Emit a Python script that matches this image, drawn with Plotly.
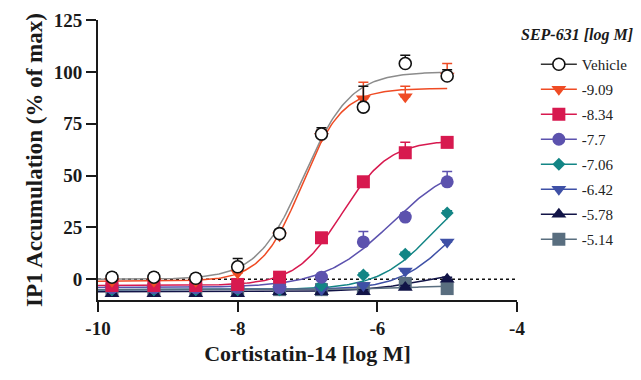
import numpy as np
import plotly.graph_objects as go

# Cortistatin-14 concentrations (log M)
log_conc = [-9.8, -9.2, -8.6, -8.0, -7.4, -6.8, -6.2, -5.6, -5.0]

# SEP-631 concentrations (legend labels)
series_names = ["Vehicle", "-9.09", "-8.34", "-7.7", "-7.06", "-6.42", "-5.78", "-5.14"]

# IP1 accumulation (% of max), mean values
vehicle = [1, 1, 0.5, 6, 22, 70, 83, 104, 98]
sep_909 = [-1, -1, -1, 3, 21, 69, 87, 88, 98]
sep_834 = [-3, -3, -3, -2.5, 1, 20, 47, 61, 66]
sep_770 = [-4, -4, -4, -4, -4, 1, 18, 30, 47]
sep_706 = [-5, -5, -5, -5, -5, -3, 2, 12, 32]
sep_642 = [-5, -5, -5, -5, -5, -5, -3, 4, 18]
sep_578 = [-7, -7, -7, -7, -6, -6, -6, -4, 0]
sep_514 = [-5, -5, -5, -5, -5, -5, -4.5, -2, -4.5]

# Upper error bars (SEM)
err_vehicle = [2, 2, 2, 4, 2, 3, 10, 4, 3]
err_909 = [1, 1, 1, 2, 2, 3, 8, 5, 6]
err_834 = [1, 1, 1, 1, 1, 2, 2, 5, 2]
err_770 = [1, 1, 1, 1, 1, 1, 5, 2, 5]
err_706 = [1, 1, 1, 1, 1, 1, 1, 1, 1]
err_642 = [1, 1, 1, 1, 1, 1, 1, 1, 1]
err_578 = [1, 1, 1, 1, 1, 1, 1, 1, 1]
err_514 = [1, 1, 1, 1, 1, 1, 1, 1, 1]

# Four-parameter logistic fit parameters (bottom, top, logEC50, hill slope)
fit_bottom = [0, -1, -3, -4, -5, -5, -6, -5]
fit_top = [100, 92, 67, 58, 50, 40, 5, -3]
fit_logec50 = [-7.05, -7.08, -6.5, -5.8, -5.2, -5.0, -5.3, -5.6]
fit_hill = [1.3, 1.5, 1.3, 0.9, 1.1, 1.2, 1.0, 1.0]

means = [vehicle, sep_909, sep_834, sep_770, sep_706, sep_642, sep_578, sep_514]
errs = [err_vehicle, err_909, err_834, err_770, err_706, err_642, err_578, err_514]

colors = ["#111111", "#EF4B24", "#D7194F", "#5C52AE", "#138585", "#3E50A6", "#121447", "#596E7F"]
curve_colors = ["#8c8c8c", "#EF4B24", "#D7194F", "#5C52AE", "#138585", "#3E50A6", "#121447", "#596E7F"]
legend_line_colors = ["#333333", "#EF4B24", "#D7194F", "#5C52AE", "#138585", "#3E50A6", "#121447", "#596E7F"]
symbols = ["circle", "triangle-down", "square", "circle", "diamond", "triangle-down", "triangle-up", "square"]
sizes = [12, 13, 13, 13, 10, 13, 13, 13]

SERIF = "Liberation Serif, Times New Roman, serif"

fig = go.Figure()

# zero reference line
fig.add_trace(go.Scatter(x=[-10, -4], y=[0, 0], mode="lines",
                         line=dict(color="#111111", width=1.3, dash="3px,3px"),
                         showlegend=False, hoverinfo="skip"))

xfit = np.linspace(-10, -5.0, 200)
for i in range(len(series_names)):
    b, t, ec, h = fit_bottom[i], fit_top[i], fit_logec50[i], fit_hill[i]
    yfit = b + (t - b) / (1 + 10 ** ((ec - xfit) * h))
    fig.add_trace(go.Scatter(x=xfit, y=yfit, mode="lines",
                             line=dict(color=curve_colors[i], width=1.5),
                             showlegend=False, hoverinfo="skip"))

for i in reversed(range(len(series_names))):
    fill = "white" if i == 0 else colors[i]
    fig.add_trace(go.Scatter(
        x=log_conc, y=means[i], mode="markers",
        marker=dict(symbol=symbols[i], size=sizes[i], color=fill,
                    line=dict(color=colors[i], width=1.6 if i == 0 else 0)),
        error_y=dict(type="data", symmetric=False, array=errs[i],
                     arrayminus=[0] * len(log_conc), color=colors[i],
                     thickness=1.5, width=5),
        showlegend=False, name=series_names[i]))

# legend entries (line + marker)
for i in range(len(series_names)):
    fill = "white" if i == 0 else colors[i]
    fig.add_trace(go.Scatter(
        x=[None], y=[None], mode="lines+markers", name=series_names[i],
        legendgroup=series_names[i],
        line=dict(color=legend_line_colors[i], width=1.5),
        marker=dict(symbol=symbols[i], size=sizes[i], color=fill,
                    line=dict(color=colors[i], width=1.6 if i == 0 else 0))))

fig.update_layout(
    width=641, height=380,
    margin=dict(l=98, r=124, t=20, b=80, autoexpand=False),
    plot_bgcolor="white", paper_bgcolor="white",
    font=dict(family=SERIF, color="#1a1a1a"),
    legend=dict(x=1.045, y=0.90, xanchor="left", yanchor="top",
                font=dict(family=SERIF, size=15, color="#222222"),
                itemwidth=36,
                tracegroupgap=2.5, bgcolor="rgba(0,0,0,0)", traceorder="grouped"),
    xaxis=dict(range=[-10, -4], tickvals=[-10, -8, -6, -4],
               ticktext=["<b>-10</b>", "<b>-8</b>", "<b>-6</b>", "<b>-4</b>"],
               showline=True, linecolor="#1a1a1a", linewidth=2,
               ticks="outside", ticklen=10, tickwidth=2, tickcolor="#1a1a1a",
               showgrid=False, zeroline=False,
               tickfont=dict(family=SERIF, size=19, color="#1a1a1a"),
               title=dict(text="<b>Cortistatin-14 [log M]</b>",
                          font=dict(family=SERIF, size=22, color="#1a1a1a"),
                          standoff=8)),
    yaxis=dict(range=[-10, 125], tickvals=[0, 25, 50, 75, 100, 125],
               ticktext=["<b>0</b>", "<b>25</b>", "<b>50</b>", "<b>75</b>", "<b>100</b>", "<b>125</b>"],
               showline=True, linecolor="#1a1a1a", linewidth=2,
               ticks="outside", ticklen=10, tickwidth=2, tickcolor="#1a1a1a",
               showgrid=False, zeroline=False,
               tickfont=dict(family=SERIF, size=19, color="#1a1a1a"),
               title=dict(text="<b>IP1 Accumulation (% of max)</b>",
                          font=dict(family=SERIF, size=23, color="#1a1a1a"),
                          standoff=5)),
    annotations=[dict(text="<b><i>SEP-631 [log M]</i></b>", xref="paper", yref="paper",
                      x=1.143, y=0.946, xanchor="center", yanchor="middle", showarrow=False,
                      font=dict(family=SERIF, size=16, color="#1a1a1a"))],
)

fig.write_html("out.html")
